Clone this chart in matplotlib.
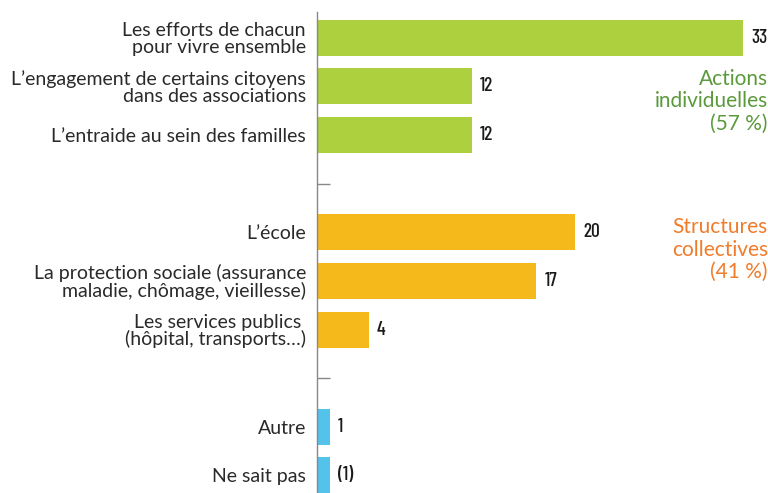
import matplotlib
matplotlib.use("Agg")
import matplotlib.pyplot as plt
from matplotlib import font_manager

categories = [
    "Les efforts de chacun\npour vivre ensemble",
    "L\u2019engagement de certains citoyens\ndans des associations",
    "L\u2019entraide au sein des familles",
    "L\u2019\u00e9cole",
    "La protection sociale (assurance\nmaladie, ch\u00f4mage, vieillesse)",
    "Les services publics \n(h\u00f4pital, transports\u2026)",
    "Autre",
    "Ne sait pas",
]
values = [33, 12, 12, 20, 17, 4, 1, 1]
value_labels = ["33", "12", "12", "20", "17", "4", "1", "(1)"]
groups = ["ind", "ind", "ind", "col", "col", "col", "oth", "oth"]
group_titles = {"ind": "Actions\nindividuelles\n(57 %)", "col": "Structures\ncollectives\n(41 %)"}

positions = [0, 1, 2, 4, 5, 6, 8, 9]
gap_positions = [3, 7]

bar_colors = {"ind": "#add03f", "col": "#f6b91b", "oth": "#53c3ec"}
title_colors = {"ind": "#5b9a3c", "col": "#f07c2b"}

names = {f.name for f in font_manager.fontManager.ttflist}
label_font = "Lato" if "Lato" in names else "DejaVu Sans"
num_font = "Barlow Condensed" if "Barlow Condensed" in names else "DejaVu Sans"

fig = plt.figure(figsize=(7.68, 4.93), dpi=100)
ax = fig.add_axes([317/768, 0.0, 1 - 317/768, 1 - 12/493])

ax.barh(positions, values, height=0.74, color=[bar_colors[g] for g in groups])
ax.set_ylim(9.36, -0.53)
ax.set_xlim(0, 451/12.9)

ax.set_yticks(positions)
ax.set_yticklabels(categories, fontsize=14, color="#2a2a2a", family=label_font,
                   fontweight="normal", linespacing=0.95)
ax.tick_params(axis="y", which="major", length=0, pad=8)
ax.set_yticks(gap_positions, minor=True)
ax.tick_params(axis="y", which="minor", length=9, direction="in", color="#888888", width=1)
ax.set_xticks([])

for s in ["top", "right", "bottom"]:
    ax.spines[s].set_visible(False)
ax.spines["left"].set_color("#888888")
ax.spines["left"].set_linewidth(1)

for p, v, lab in zip(positions, values, value_labels):
    ax.annotate(lab, (v, p), xytext=(6, 0), textcoords="offset points",
                va="center", ha="left", fontsize=14, fontweight="medium",
                family=num_font, color="#1a1a1a")

ax.text(1.0, 1.31, group_titles["ind"], transform=ax.get_yaxis_transform(),
        ha="right", va="center", fontsize=15, color=title_colors["ind"],
        family=label_font, linespacing=1.15)
ax.text(1.0, 4.36, group_titles["col"], transform=ax.get_yaxis_transform(),
        ha="right", va="center", fontsize=15, color=title_colors["col"],
        family=label_font, linespacing=1.15)

fig.savefig("out.png", dpi=100)
